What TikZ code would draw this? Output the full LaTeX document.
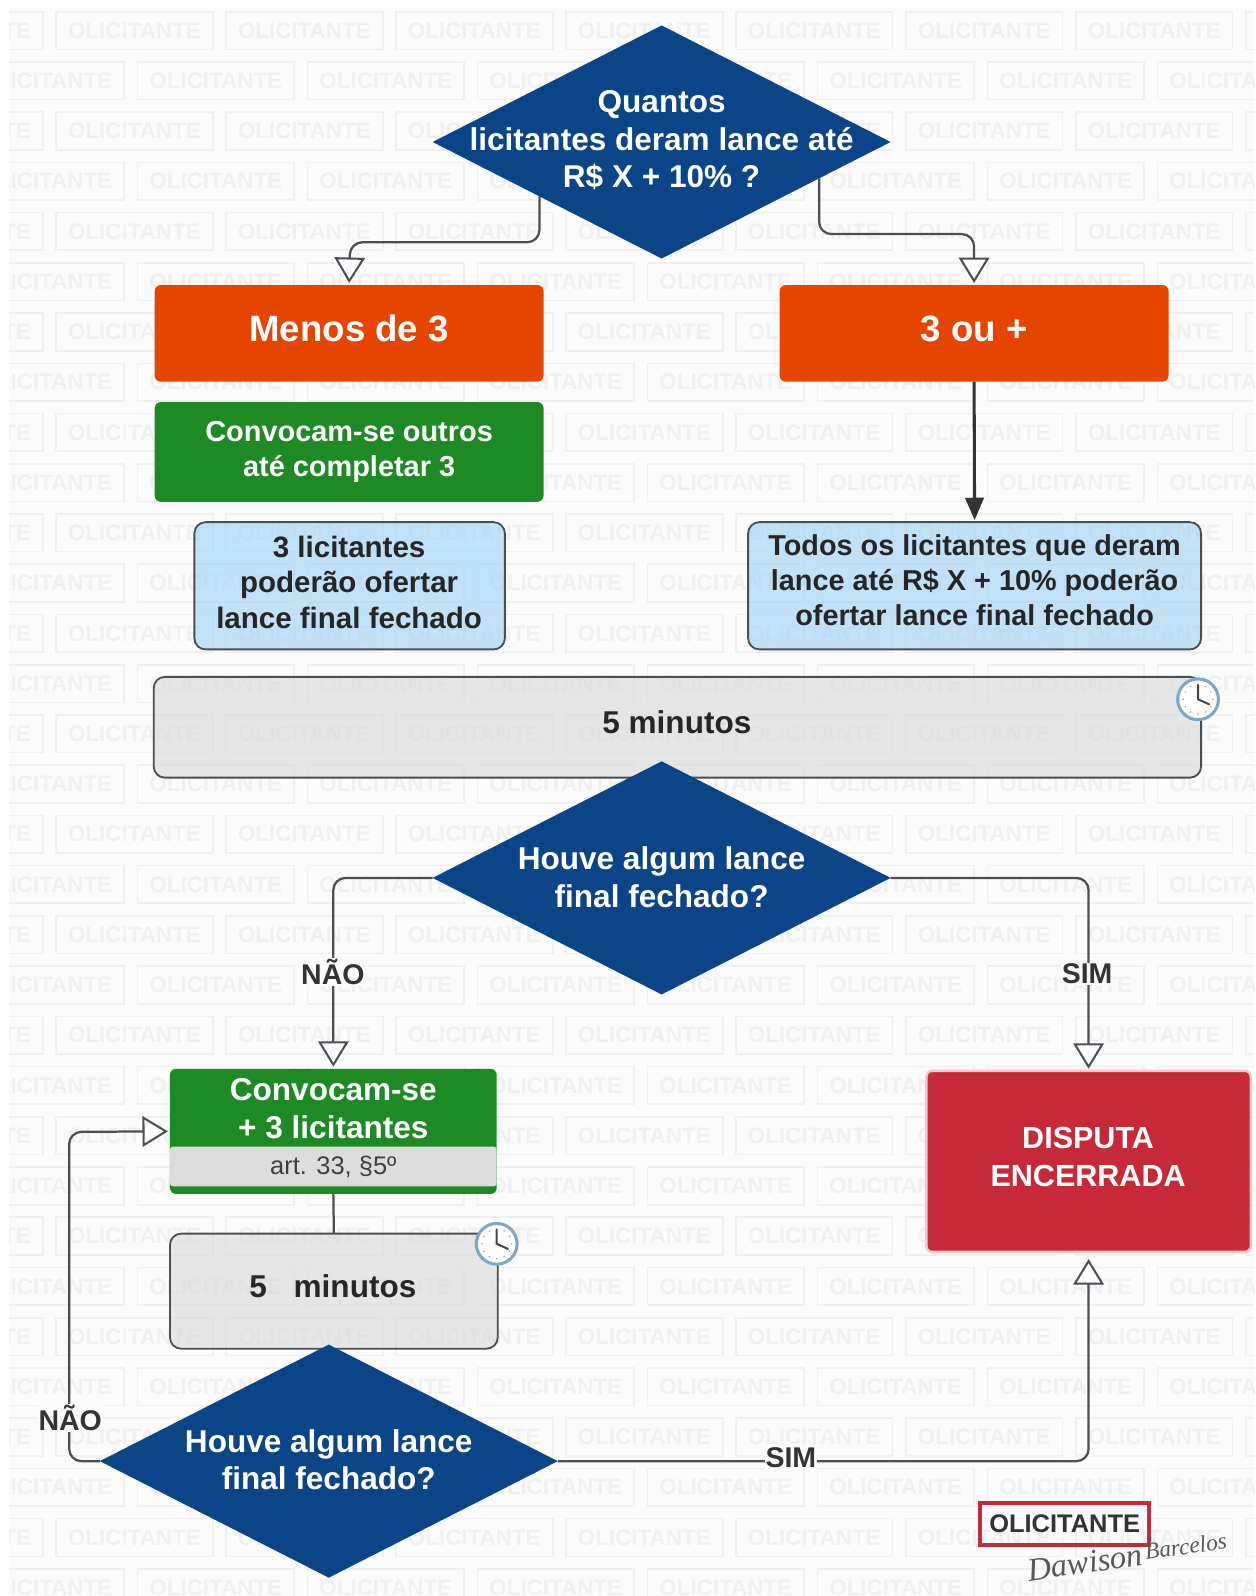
\documentclass[tikz,border=0pt]{standalone}
\usepackage{fontspec}
\setmainfont{Liberation Sans}
\newfontfamily\sigfont{Liberation Serif}
\usetikzlibrary{shapes.geometric,arrows.meta,calc}
\definecolor{bgc}{HTML}{FBFBFB}
\definecolor{wmc}{HTML}{F0F0F0}
\definecolor{navy}{HTML}{0B4588}
\definecolor{orng}{HTML}{E64500}
\definecolor{grn}{HTML}{1E8A26}
\definecolor{lblue}{HTML}{A9D6F5}
\definecolor{lgrey}{HTML}{DCDCDC}
\definecolor{edge}{HTML}{4A4F55}
\definecolor{redb}{HTML}{C62A38}
\definecolor{ring}{HTML}{7FA6C8}
\newcommand{\fs}[2]{\fontsize{#1}{#2}\selectfont}
\tikzset{
  x=1pt,y=-1pt,
  wmbox/.style={draw=wmc,line width=1.6pt,text=wmc,minimum width=154,minimum height=37,inner sep=0pt,font=\bfseries\fs{22}{22}},
  dec/.style={diamond,shape aspect=1.965,fill=navy,inner sep=0pt,outer sep=0pt,minimum width=450,minimum height=229},
  solidbox/.style={rectangle,rounded corners=6pt,inner sep=0pt,outer sep=0pt},
  glassbox/.style={rectangle,rounded corners=11pt,draw=edge,line width=1.8pt,fill opacity=.7,inner sep=0pt,outer sep=0pt},
  wtxt/.style={text=white,inner sep=0pt,align=center},
  dtxt/.style={text=black!85,inner sep=0pt,align=center},
  conn/.style={draw=edge,line width=2.2pt,rounded corners=12pt,-{Triangle[open,fill=white,length=25pt,width=30pt,line width=2pt]},shorten >=2pt},
  lab/.style={fill=bgc,inner sep=1pt,text=black!80,font=\bfseries\fs{28}{28}},
  clockface/.style={circle,draw=ring,fill=white,line width=3pt,minimum size=40,inner sep=0pt},
}
\begin{document}
\begin{tikzpicture}
\useasboundingbox (0,0) rectangle (1233,1568);
\fill[white] (0,0) rectangle (1233,1568);
\fill[bgc] (9,8) rectangle (1232,1568);
\begin{scope}
\clip (9,8) rectangle (1232,1568);
\foreach \r in {0,...,31}{
  \pgfmathsetmacro{\yy}{30+49.35*\r}
  \pgfmathsetmacro{\xo}{isodd(\r)?212:132}
  \foreach \k in {-1,...,7}{
    \node[wmbox] (wm-\r-\k) at ({\xo+167*\k},\yy) {OLICITANTE};
  }
}
\end{scope}

% boxes
\node[solidbox,fill=orng,minimum width=382,minimum height=95] (o1) at (343,327.5) {};
\node[wtxt,font=\bfseries\fs{36}{40}] (o1t) at (343,323) {Menos de 3};
\node[solidbox,fill=orng,minimum width=382,minimum height=95] (o2) at (957,327.5) {};
\node[wtxt,font=\bfseries\fs{36}{40}] (o2t) at (957,323) {3 ou +};
\node[solidbox,fill=grn,minimum width=382,minimum height=98] (g1) at (343,444) {};
\node[wtxt,font=\bfseries\fs{28.4}{34}] (g1t) at (343,444) {Convocam-se outros\\até completar 3};
\node[glassbox,fill=lblue,minimum width=305,minimum height=125] (b1) at (343.5,575.5) {};
\node[dtxt,font=\bfseries\fs{29}{35}] (b1t) at (343,572) {3 licitantes\\poderão ofertar\\lance final fechado};
\node[glassbox,fill=lblue,minimum width=445,minimum height=125] (b2) at (957.5,575.5) {};
\node[dtxt,font=\bfseries\fs{28.3}{34}] (b2t) at (957.5,570) {Todos os licitantes que deram\\lance até R\$ X + 10\% poderão\\ofertar lance final fechado};
\node[glassbox,fill=lgrey,minimum width=1029,minimum height=99] (t1) at (665.5,714.5) {};
\node[dtxt,font=\bfseries\fs{31}{36}] (t1t) at (665,710) {5 minutos};
\node[solidbox,fill=grn,minimum width=321,minimum height=123] (g2) at (327.5,1111.5) {};
\node[wtxt,font=\bfseries\fs{31}{37}] (g2t) at (327.5,1089.5) {Convocam-se\\+ 3 licitantes};
\node[rectangle,rounded corners=3pt,fill=lgrey,text=black!75,minimum width=321,minimum height=39,inner sep=0pt,font=\fs{25}{25}] (g2n) at (327.5,1146) {art. 33, §5º};
\node[glassbox,fill=lgrey,minimum width=322,minimum height=113] (t2) at (328,1268.5) {};
\node[dtxt,font=\bfseries\fs{31}{36}] (t2t) at (327,1264) {5\hspace{0.85em}minutos};
\node[solidbox,fill=redb,draw=redb!25!white,line width=2.5pt,minimum width=319,minimum height=178] (red) at (1069.5,1141) {};
\node[wtxt,font=\bfseries\fs{30}{37}] (redt) at (1069,1136.5) {DISPUTA\\ENCERRADA};

% decisions
\node[dec] (d1) at (650,139.5) {};
\node[dec] (d2) at (650,862.5) {};
\node[dec] (d3) at (323,1435.5) {};
\node[wtxt,font=\bfseries\fs{31}{37}] (d1t) at (650,138) {Quantos\\licitantes deram lance até\\R\$ X + 10\% ?};
\node[wtxt,font=\bfseries\fs{31}{37}] (d2t) at (650,861.5) {Houve algum lance\\final fechado?};
\node[wtxt,font=\bfseries\fs{31}{37}] (d3t) at (323,1434) {Houve algum lance\\final fechado?};

% clocks
\foreach \n/\cx/\cy in {ck1/1177/687,ck2/488/1222}{
  \node[clockface] (\n) at (\cx,\cy) {};
  \foreach \a in {0,30,...,330}{
    \fill[black!40] ($(\n)+(\a:14.5)$) circle (.8);
  }
  \draw[edge!90!black,line width=2pt,line cap=round] ($(\n)+(0,-14)$) -- (\n.center) -- ($(\n)+(11,5)$);
}

% waypoints
\coordinate (c1) at (344,238);
\coordinate (c2) at (957,230);
\coordinate (c3) at (68,1112);

% connectors
\draw[conn] (d1.204.7) |- (c1) -- (o1.north);
\draw[conn] (d1.-13) |- (c2) -- (o2.north);
\draw[draw=black!80,line width=3pt,-{Triangle[length=22pt,width=18pt]},shorten >=2pt] (o2.south) -- (b2.north);
\draw[conn] (d2.west) -| (g2.north);
\draw[conn] (d2.east) -| (red.north);
\draw[draw=edge,line width=2.2pt] (g2.south) -- (t2.north);
\draw[conn] (d3.west) -| (c3) -- (g2.west);
\draw[conn,shorten >=7pt] (d3.east) -| (red.south);

% labels
\node[lab] (l1) at (327,955) {NÃO};
\node[lab] (l2) at (1068,957) {SIM};
\node[lab] (l3) at (69,1393) {NÃO};
\node[lab] (l4) at (777,1432) {SIM};

% logo
\node[rectangle,draw=redb,line width=4pt,minimum width=166,minimum height=41,inner sep=0pt,text=black!80,font=\bfseries\fs{25}{25}] (logo) at (1046,1497) {OLICITANTE};
\node[rotate=8,text=black!65,inner sep=0pt,font=\sigfont\itshape\fs{32}{32}] (sig1) at (1066,1535) {Dawison};
\node[rotate=8,text=black!65,inner sep=0pt,font=\sigfont\itshape\fs{23}{23}] (sig2) at (1165,1519) {Barcelos};
\end{tikzpicture}
\end{document}
